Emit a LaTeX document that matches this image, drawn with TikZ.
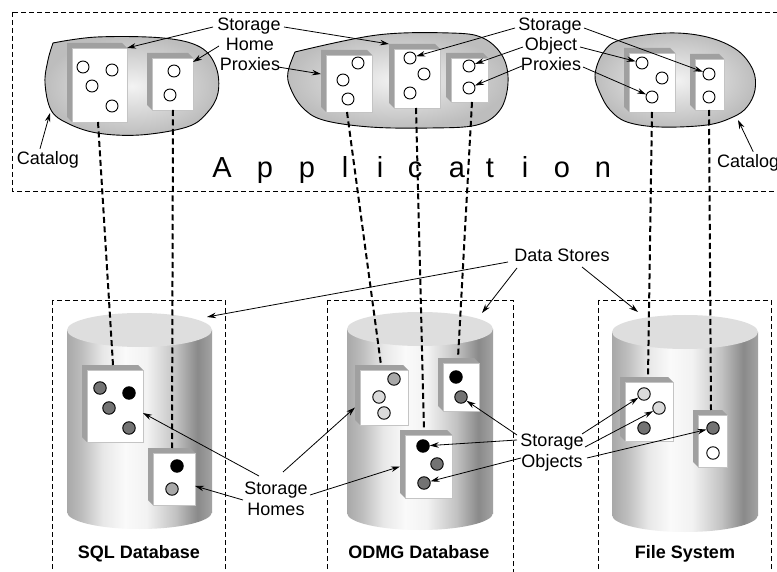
\documentclass[tikz,border=0pt]{standalone}
\usepackage{fontspec}
\setmainfont{Liberation Sans}
\usetikzlibrary{arrows.meta,calc}

\definecolor{sidegray}{HTML}{A0A0A0}
\definecolor{faceedge}{HTML}{C4C4C4}
\definecolor{blobin}{HTML}{F3F3F3}
\definecolor{blobout}{HTML}{BDBDBD}
\definecolor{captop}{HTML}{DEDEDE}
\definecolor{dotdark}{HTML}{737373}
\definecolor{dotmid}{HTML}{A8A8A8}
\definecolor{dotlight}{HTML}{DADADA}

% drum side: dark rim left, bright band left of centre, dark band near right rim
\pgfdeclarehorizontalshading{cylside}{100bp}{%
  color(0bp)=(black!34); color(25bp)=(black!34); color(30bp)=(black!26);
  color(37.5bp)=(black!9); color(45bp)=(black!2); color(52.5bp)=(black!5);
  color(62.5bp)=(black!24); color(70bp)=(black!46); color(75bp)=(black!36);
  color(100bp)=(black!36)}

% a white card with a grey bevel towards the upper left
% #1 name, #2 x1, #3 y1, #4 x2, #5 y2 of the front face
\newcommand\card[5]{%
  \fill[sidegray] ({#2-5},{#3-5}) -- ({#4-5},{#3-5}) -- (#4,#3) -- (#4,#5)
    -- (#2,#5) -- ({#2-5},{#5-5}) -- cycle;
  \node[face, minimum width={#4-#2}, minimum height={#5-#3}]
    (#1) at ({(#2+#4)/2},{(#3+#5)/2}) {};
}

% a database drum: #1 centre x, #2 radius, #3 top centre y, #4 bottom centre y
\newcommand\drum[4]{%
  \shade[shading=cylside] ({#1-#2},#3) rectangle ({#1+#2},#4);
  \shade[shading=cylside] (#1,#4) ellipse [x radius=#2, y radius=17];
  \fill[captop] (#1,#3) ellipse [x radius=#2, y radius=17];
}

\tikzset{
  face/.style={draw=faceedge, line width=0.4pt, fill=white, inner sep=0pt, outer sep=0pt},
  dot/.style={circle, draw=black, line width=0.9pt, fill=#1, minimum size=12pt, inner sep=0pt},
  bdot/.style={dot=#1, minimum size=12.5pt},
  blob/.style={draw=black, line width=0.9pt, inner color=blobin, outer color=blobout},
  frame/.style={draw=black, line width=0.8pt, dash pattern=on 5pt off 3pt},
  link/.style={line width=2pt, dash pattern=on 6pt off 3.5pt},
  arr/.style={-{Stealth[length=9pt,width=5.5pt]}, line width=0.8pt},
  lbl/.style={font=\fontsize{18}{20}\selectfont, inner sep=0pt, anchor=base},
  dblbl/.style={font=\fontsize{18}{20}\selectfont\bfseries, inner sep=0pt, anchor=base},
  applbl/.style={font=\fontsize{29}{30}\selectfont, inner sep=0pt, anchor=base},
}

\begin{document}
\begin{tikzpicture}[x=1pt, y=-1pt]
\useasboundingbox (0,0) rectangle (777,572);
\clip (0,0) rectangle (777,572);
\fill[white] (0,0) rectangle (777,572);

% ---------- application layer ----------
\draw[frame] (12,12) rectangle (800,191);

\shade[blob] plot[smooth, tension=0.6] coordinates {(53,43) (97,37) (163,38) (200,47)
  (216,67) (218,93) (207,113) (187,127) (140,135) (97,133) (67,123) (51,110) (45,83)
  (48,60) (53,43)} -- cycle;
\shade[blob] plot[smooth, tension=0.6] coordinates {(295,52) (377,35) (450,33) (483,38)
  (503,57) (508,83) (500,110) (477,125) (430,128) (370,127) (323,120) (302,107) (290,87)
  (288,72) (295,52)} -- cycle;
\shade[blob] plot[smooth cycle, tension=0.6] coordinates {(595,75) (603,53) (620,40)
  (667,33) (707,37) (737,50) (753,70) (755,90) (747,107) (733,117) (707,125) (660,127)
  (627,122) (610,110) (600,93)};
\coordinate (catLpt) at (50,113);
\coordinate (catRpt) at (738,120);

% storage home proxies
\card{b1}{72}{48}{127}{122}
\node[dot=white] (b1a) at (83,67) {};
\node[dot=white] (b1b) at (112,70) {};
\node[dot=white] (b1c) at (92,86) {};
\node[dot=white] (b1d) at (112,106) {};
\card{b2}{152}{58}{193}{110}
\node[dot=white] (b2a) at (174,71) {};
\node[dot=white] (b2b) at (170,95) {};

\card{bA}{326}{55}{372}{112}
\node[dot=white] (bAa) at (358,63) {};
\node[dot=white] (bAb) at (343,80) {};
\node[dot=white] (bAc) at (348,99) {};
\card{bB}{394}{49}{440}{108}
\node[dot=white] (bBa) at (410,58) {};
\node[dot=white] (bBb) at (424,74) {};
\node[dot=white] (bBc) at (410,93) {};
\card{bC}{451}{58}{488}{102}
\node[dot=white] (bCa) at (469,66) {};
\node[dot=white] (bCb) at (469,88) {};

\card{bE}{629}{53}{675}{112}
\node[dot=white] (bEa) at (642,63) {};
\node[dot=white] (bEb) at (662,78) {};
\node[dot=white] (bEc) at (652,97) {};
\card{bF}{695}{59}{724}{110}
\node[dot=white] (bFa) at (709,74) {};
\node[dot=white] (bFb) at (709,97) {};

% ---------- data stores ----------
\draw[frame] (52,300) rectangle (225,600);
\draw[frame] (327,300) rectangle (513,600);
\draw[frame] (598,300) rectangle (771,600);

\drum{139.5}{72.5}{330}{512}
\drum{420}{73}{329}{513}
\drum{685}{73}{332}{515}
\coordinate (sqlT) at (207,317);
\coordinate (odmgT) at (482,313);
\coordinate (fsT) at (638,312);

\card{s1}{87}{370}{143}{442}
\node[bdot=dotdark] (s1a) at (100,388) {};
\node[bdot=black] (s1b) at (129,393) {};
\node[bdot=dotdark] (s1c) at (109,408) {};
\node[bdot=dotdark] (s1d) at (129,428) {};
\card{s2}{153}{453}{195}{505}
\node[bdot=black] (s2a) at (177,466) {};
\node[bdot=dotmid] (s2b) at (172,489) {};

\card{G}{360}{370}{408}{425}
\node[bdot=dotmid] (Ga) at (394,379) {};
\node[bdot=dotlight] (Gb) at (379,397) {};
\node[bdot=dotlight] (Gc) at (384,413) {};
\card{H}{443}{363}{479}{411}
\node[bdot=black] (Ha) at (456,377) {};
\node[bdot=dotdark] (Hb) at (461,397) {};
\card{D}{405}{435}{452}{498}
\node[bdot=black] (Da) at (423,446) {};
\node[bdot=dotdark] (Db) at (437,464) {};
\node[bdot=dotdark] (Dc) at (424,483) {};

\card{I}{625}{382}{673}{441}
\node[bdot=dotlight] (Ia) at (644,394) {};
\node[bdot=dotlight] (Ib) at (659,408) {};
\node[bdot=dotdark] (Ic) at (644,428) {};
\card{J}{698}{415}{727}{467}
\node[bdot=dotdark] (Ja) at (713,428) {};
\node[bdot=white] (Jb) at (713,453) {};

% ---------- proxy to store links ----------
\draw[link] ([xshift=-1.5pt]b1.south) -- ([xshift=-2pt,yshift=5pt]s1.north);
\draw[link] ([xshift=0.5pt]b2.south) -- ([xshift=-2pt,yshift=5pt]s2.north);
\draw[link] ([xshift=-2pt]bA.south) -- ([xshift=-3pt,yshift=5pt]G.north);
\draw[link] ([xshift=-1pt]bB.south) -- ([xshift=-4.5pt,yshift=5pt]D.north);
\draw[link] ([xshift=2.5pt]bC.south) -- ([xshift=-3pt,yshift=5pt]H.north);
\draw[link] (bE.south) -- ([xshift=-1pt,yshift=5pt]I.north);
\draw[link] ([xshift=-0.5pt]bF.south) -- ([xshift=-1.5pt,yshift=5pt]J.north);

% ---------- labels ----------
\foreach \ch/\xx [count=\i] in {A/222,p/265,p/307,l/345,i/380,c/415,a/457,t/490,i/525,o/562,n/603}
  \node[applbl] (app\i) at (\xx,178) {\ch};

\node[lbl] (tl1) at (249,31) {Storage};
\node[lbl] (tl2) at (250,51) {Home};
\node[lbl] (tl3) at (250,71) {Proxies};
\node[lbl] (tr1) at (550,31) {Storage};
\node[lbl] (tr2) at (551,51) {Object};
\node[lbl] (tr3) at (551,71) {Proxies};
\node[lbl] (catL) at (48,165) {Catalog};
\node[lbl, anchor=base west] (catR) at (717,168) {Catalog};
\node[lbl] (ds) at (562,262) {Data Stores};
\node[lbl] (sh1) at (276,494) {Storage};
\node[lbl] (sh2) at (276,515) {Homes};
\node[lbl] (so1) at (552,446) {Storage};
\node[lbl] (so2) at (552,467) {Objects};
\node[dblbl] (sqlname) at (139,558) {SQL Database};
\node[dblbl] (odmgname) at (419,558) {ODMG Database};
\node[dblbl] (fsname) at (685,558) {File System};

% ---------- pointers ----------
\coordinate (p1) at (213,27);
\coordinate (p2) at (219,46);
\coordinate (p3) at (284,27);
\coordinate (p4) at (278,67);
\draw[arr] (p1) -- (b1.north east);
\draw[arr] (p2) -- ([yshift=-4pt]b2.north east);
\draw[arr] (p3) -- ([xshift=-5pt,yshift=5pt]bB.north west);
\draw[arr] (p4) -- ([xshift=-5pt,yshift=-19pt]bA.north west);

\coordinate (q1) at (515,28);
\coordinate (q2) at (523,47);
\coordinate (q3) at (522,66);
\coordinate (q4) at (584,28);
\coordinate (q5) at (580,47);
\coordinate (q6) at (583,67);
\draw[arr] (q1) -- (bBa);
\draw[arr] (q2) -- (bCa);
\draw[arr] (q3) -- (bCb);
\draw[arr] (q4) -- (bFa);
\draw[arr] (q5) -- (bEa);
\draw[arr] (q6) -- (bEc);

\draw[arr] ([xshift=-8pt,yshift=3pt]catL.north) -- (catLpt);
\draw[arr] ([xshift=5pt,yshift=3pt]catR.north) -- (catRpt);

\coordinate (d1) at (508,262);
\coordinate (d2) at (517,268);
\coordinate (d3) at (582,267);
\draw[arr] (d1) -- (sqlT);
\draw[arr] (d2) -- (odmgT);
\draw[arr] (d3) -- (fsT);

\coordinate (h1) at (259,476);
\coordinate (h2) at (243,500);
\coordinate (h3) at (283,472);
\coordinate (h4) at (310,495);
\draw[arr] (h1) -- ([yshift=-7pt]s1.east);
\draw[arr] (h2) -- ([yshift=-7pt]s2.east);
\draw[arr] (h3) -- ([xshift=-5pt,yshift=-10pt]G.west);
\draw[arr] (h4) -- ([xshift=-5pt]D.west);

\coordinate (o1) at (517,435);
\coordinate (o2) at (517,440);
\coordinate (o3) at (521,458);
\coordinate (o4) at (582,434);
\coordinate (o5) at (585,447);
\coordinate (o6) at (587,458);
\draw[arr] (o1) -- (Hb);
\draw[arr] (o2) -- (Da);
\draw[arr] (o3) -- (Dc);
\draw[arr] (o4) -- (Ia);
\draw[arr] (o5) -- (Ib);
\draw[arr] (o6) -- (Ja);
\end{tikzpicture}
\end{document}
